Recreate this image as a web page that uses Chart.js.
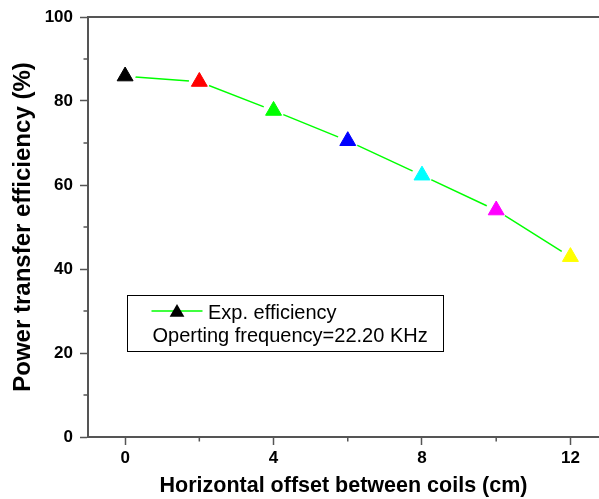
<!DOCTYPE html>
<html><head><meta charset="utf-8">
<script src="https://cdn.jsdelivr.net/npm/chart.js@4/dist/chart.umd.min.js"></script>
<style>html,body{margin:0;padding:0;background:#fff}#wrap{width:599px;height:499px}</style>
</head><body><div id="wrap"><canvas id="c" width="599" height="499"></canvas></div>
<script>
const offsets = [0, 2, 4, 6, 8, 10, 12];
const efficiency = [85.9, 84.6, 77.7, 70.5, 62.3, 54.0, 42.9];
const markerColors = ['#000000', '#ff0000', '#00ff00', '#0000ff', '#00ffff', '#ff00ff', '#ffff00'];
const xTicks = [0, 4, 8, 12];
const xMinorTicks = [2, 6, 10];
const yTicks = [0, 20, 40, 60, 80, 100];
const yMinorTicks = [10, 30, 50, 70, 90];
const seriesLabel = 'Exp. efficiency';
const noteText = 'Operting frequency=22.20 KHz';
const xTitle = 'Horizontal offset between coils (cm)';
const yTitle = 'Power transfer efficiency (%)';

const points = offsets.map((x, i) => ({x: x, y: efficiency[i]}));
const AXIS = '#555555';
const FONT = '"Liberation Sans", Arial, sans-serif';

const framePlugin = {
  id: 'frame',
  afterDatasetDraw(chart, args) {
    if (args.index !== 0) return;
    const ctx = chart.ctx;
    const meta = chart.getDatasetMeta(1);
    ctx.save();
    ctx.fillStyle = '#ffffff';
    meta.data.forEach(p => {
      ctx.beginPath();
      ctx.arc(p.x, p.y, 10.5, 0, Math.PI * 2);
      ctx.fill();
    });
    ctx.restore();
  },
  afterDraw(chart) {
    const ctx = chart.ctx;
    const a = chart.chartArea;
    const xs = chart.scales.x, ys = chart.scales.y;
    ctx.save();
    ctx.strokeStyle = AXIS;
    ctx.lineWidth = 2;
    ctx.beginPath();
    ctx.moveTo(a.left - 1, a.top);
    ctx.lineTo(chart.width, a.top);
    ctx.stroke();
    ctx.lineWidth = 1.5;
    xMinorTicks.forEach(v => {
      const px = xs.getPixelForValue(v);
      ctx.beginPath(); ctx.moveTo(px, a.bottom); ctx.lineTo(px, a.bottom + 4.5); ctx.stroke();
    });
    yMinorTicks.forEach(v => {
      const py = ys.getPixelForValue(v);
      ctx.beginPath(); ctx.moveTo(a.left, py); ctx.lineTo(a.left - 4.5, py); ctx.stroke();
    });
    // legend box
    const bx = a.left + 39.5, by = a.top + 278.5, bw = 316, bh = 56;
    ctx.strokeStyle = '#000';
    ctx.lineWidth = 1;
    ctx.strokeRect(bx, by, bw, bh);
    ctx.strokeStyle = '#00ff00';
    ctx.lineWidth = 1.5;
    ctx.beginPath(); ctx.moveTo(bx + 24, by + 15.5); ctx.lineTo(bx + 75, by + 15.5); ctx.stroke();
    ctx.fillStyle = '#000';
    ctx.beginPath();
    const tx = bx + 49.5, ty = by + 17, r = 8.5;
    ctx.moveTo(tx, ty - r);
    ctx.lineTo(tx + Math.sin(2 * Math.PI / 3) * r, ty + r / 2);
    ctx.lineTo(tx - Math.sin(2 * Math.PI / 3) * r, ty + r / 2);
    ctx.closePath();
    ctx.fill();
    ctx.font = '20px ' + FONT;
    ctx.textBaseline = 'alphabetic';
    ctx.textAlign = 'left';
    ctx.fillText(seriesLabel, bx + 80.5, by + 23.5);
    ctx.fillText(noteText, bx + 25, by + 46.5);
    ctx.restore();
  }
};

new Chart(document.getElementById('c'), {
  type: 'scatter',
  data: {
    datasets: [
      {
        label: seriesLabel,
        data: points,
        showLine: true,
        borderColor: '#00ff00',
        borderWidth: 1.5,
        pointRadius: 0,
        order: 2
      },
      {
        label: seriesLabel + ' markers',
        data: points,
        showLine: false,
        pointStyle: 'triangle',
        pointRadius: 9.2,
        pointBackgroundColor: markerColors,
        pointBorderColor: markerColors,
        pointBorderWidth: 1,
        order: 1
      }
    ]
  },
  plugins: [framePlugin],
  options: {
    responsive: false,
    animation: false,
    layout: {autoPadding: false, padding: {top: 17, right: 0, left: 0, bottom: 0}},
    plugins: {legend: {display: false}, tooltip: {enabled: false}},
    scales: {
      x: {
        type: 'linear',
        min: -1,
        max: 12.77,
        afterBuildTicks: s => { s.ticks = xTicks.map(v => ({value: v})); },
        afterFit: s => { s.height = 62; s.paddingLeft = 0; s.paddingRight = 0; },
        grid: {drawOnChartArea: false, drawTicks: true, tickLength: 8, color: AXIS, tickWidth: 1.5},
        border: {display: true, color: AXIS, width: 2},
        ticks: {color: '#000', font: {family: FONT, size: 17, weight: 'bold'}, padding: 3, maxRotation: 0},
        title: {display: true, text: xTitle, color: '#000', font: {family: FONT, size: 21.5, weight: 'bold'}, padding: 0}
      },
      y: {
        type: 'linear',
        min: 0,
        max: 100,
        afterBuildTicks: s => { s.ticks = yTicks.map(v => ({value: v})); },
        afterFit: s => { s.width = 88; s.paddingTop = 0; s.paddingBottom = 0; },
        grid: {drawOnChartArea: false, drawTicks: true, tickLength: 8, color: AXIS, tickWidth: 1.5},
        border: {display: true, color: AXIS, width: 2},
        ticks: {color: '#000', font: {family: FONT, size: 17, weight: 'bold'}, padding: 7},
        title: {display: true, text: yTitle, color: '#000', font: {family: FONT, size: 24, weight: 'bold'}, padding: {top: 9, bottom: 0}}
      }
    }
  }
});
</script>
</body></html>
